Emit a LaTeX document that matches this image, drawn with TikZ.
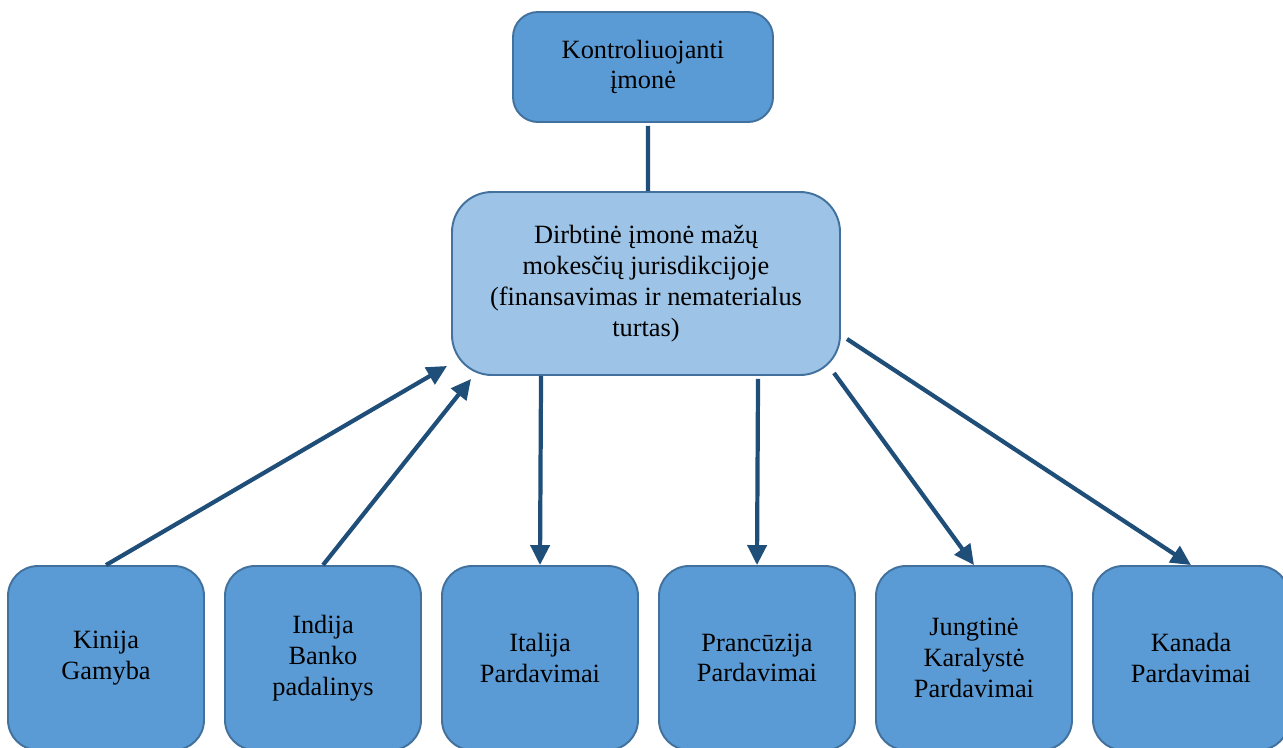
\documentclass[tikz,border=0pt]{standalone}
\usepackage{fontspec}
\setmainfont{Liberation Serif}
\usetikzlibrary{arrows.meta}
\definecolor{boxblue}{HTML}{5B9BD5}
\definecolor{lightblue}{HTML}{9DC3E6}
\definecolor{edgeblue}{HTML}{41719C}
\definecolor{linkblue}{HTML}{1F4E79}
\begin{document}
\begin{tikzpicture}[>={Triangle[length=4mm,width=3.8mm]}, node distance=4.34cm,
  unit/.style={rectangle, rounded corners=0.6cm, draw=edgeblue, line width=1.1pt, fill=boxblue, minimum width=3.92cm, minimum height=3.68cm, align=center, font=\fontsize{15}{17.5}\selectfont},
  link/.style={draw=linkblue, line width=2.4pt}]
\useasboundingbox[clip] (0,0) rectangle (25.66,-14.94);
\node[unit, rounded corners=0.5cm, minimum width=5.2cm, minimum height=2.2cm] (parent) at (12.86,-1.34) {Kontroliuojanti\\įmonė};
\node[unit, rounded corners=0.8cm, fill=lightblue, minimum width=7.76cm, minimum height=3.66cm] (hub) at (12.92,-5.67) {Dirbtinė įmonė mažų\\mokesčių jurisdikcijoje\\(finansavimas ir nematerialus\\turtas)};
\node[unit] (CN) at (2.12,-13.16) {Kinija\\Gamyba};
\node[unit] (IN) [right of=CN] {Indija\\Banko\\padalinys};
\node[unit] (IT) [right of=IN] {Italija\\Pardavimai};
\node[unit] (FR) [right of=IT] {Prancūzija\\Pardavimai};
\node[unit] (UK) [right of=FR] {Jungtinė\\Karalystė\\Pardavimai};
\node[unit] (CA) [right of=UK] {Kanada\\Pardavimai};

\path ([xshift=1mm,yshift=-0.6mm]parent.south) edge[link] ([xshift=0.4mm]hub.north);
\path
(CN.north) edge[link, ->] ([shift={(-0.08,0.2)}]hub.south west)
(IN.north) edge[link, ->] ([shift={(0.4,-0.06)}]hub.south west)
([xshift=1.8cm]hub.south west) edge[link, ->] (IT.north)
([shift={(6.14,-0.06)}]hub.south west) edge[link, ->] (FR.north)
([shift={(-0.14,0.06)}]hub.south east) edge[link, ->] (UK.north)
([shift={(0.12,0.74)}]hub.south east) edge[link, ->] (CA.north);
\end{tikzpicture}
\end{document}
